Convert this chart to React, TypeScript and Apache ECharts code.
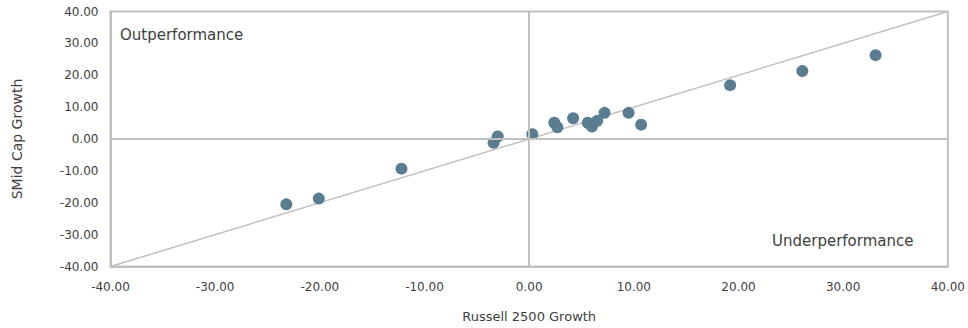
import React, { useEffect, useRef } from "react";
import * as echarts from "echarts";

const xTicks = { min: -40, max: 40, interval: 10 };
const yTicks = { min: -40, max: 40, interval: 10 };
const russell2500Growth = [-23.2, -20.1, -12.2, -3.4, -3.0, 0.3, 2.4, 2.7, 4.2, 5.6, 6.0, 6.5, 7.2, 9.5, 10.7, 19.2, 26.1, 33.1];
const smidCapGrowth = [-20.5, -18.7, -9.3, -1.2, 0.8, 1.5, 5.1, 3.7, 6.5, 5.1, 3.9, 5.7, 8.2, 8.2, 4.5, 16.9, 21.3, 26.3];
const diagonal = [[-40, -40], [40, 40]];
const xName = "Russell 2500 Growth";
const yName = "SMid Cap Growth";
const quadrantLabels = ["Outperformance", "Underperformance"];

const FONT = "'DejaVu Sans', sans-serif";
const GRAY = "#c0c0c0";
const TEXT = "#404040";

export default function App() {
  const ref = useRef<HTMLDivElement>(null);
  useEffect(() => {
    if (!ref.current) return;
    const chart = echarts.init(ref.current, undefined, { renderer: "svg" });
    const points = russell2500Growth.map((x, i) => [x, smidCapGrowth[i]]);
    chart.setOption({
      animation: false,
      textStyle: { fontFamily: FONT },
      grid: { left: 110.5, right: 17, top: 11.5, bottom: 61.5, show: true, borderColor: GRAY, borderWidth: 2 },
      xAxis: {
        type: "value",
        min: xTicks.min,
        max: xTicks.max,
        interval: xTicks.interval,
        name: xName,
        nameLocation: "middle",
        nameGap: 43,
        nameTextStyle: { color: TEXT, fontSize: 13, fontFamily: FONT },
        axisLine: { show: true, onZero: false, lineStyle: { color: GRAY, width: 2 } },
        axisTick: { show: false },
        splitLine: { show: false },
        axisLabel: { color: TEXT, fontSize: 12, margin: 14, formatter: (v: number) => v.toFixed(2), fontFamily: FONT },
      },
      yAxis: {
        type: "value",
        min: yTicks.min,
        max: yTicks.max,
        interval: yTicks.interval,
        name: yName,
        nameLocation: "middle",
        nameGap: 87,
        nameTextStyle: { color: TEXT, fontSize: 14, fontFamily: FONT },
        axisLine: { show: true, onZero: false, lineStyle: { color: GRAY, width: 2 } },
        axisTick: { show: false },
        splitLine: { show: false },
        axisLabel: { color: TEXT, fontSize: 12, margin: 12, formatter: (v: number) => v.toFixed(2), fontFamily: FONT },
      },
      series: [
        {
          type: "line",
          data: diagonal,
          symbol: "none",
          lineStyle: { color: GRAY, width: 1.5 },
          silent: true,
          markLine: {
            silent: true,
            symbol: "none",
            label: { show: false },
            lineStyle: { color: GRAY, width: 2, type: "solid" },
            data: [{ xAxis: 0 }, { yAxis: 0 }],
          },
          z: 1,
        },
        {
          type: "scatter",
          data: points,
          symbolSize: 12,
          itemStyle: { color: "#5a7d92", opacity: 1 },
          z: 3,
        },
      ],
      graphic: [
        { type: "text", left: 120, top: 27, style: { text: quadrantLabels[0], fill: TEXT, font: `15px ${FONT}` } },
        { type: "text", left: 772, top: 233, style: { text: quadrantLabels[1], fill: TEXT, font: `15px ${FONT}` } },
      ],
    });
    return () => chart.dispose();
  }, []);
  return <div ref={ref} style={{ position: "absolute", left: 0, top: 0, width: 968, height: 328 }} />;
}
